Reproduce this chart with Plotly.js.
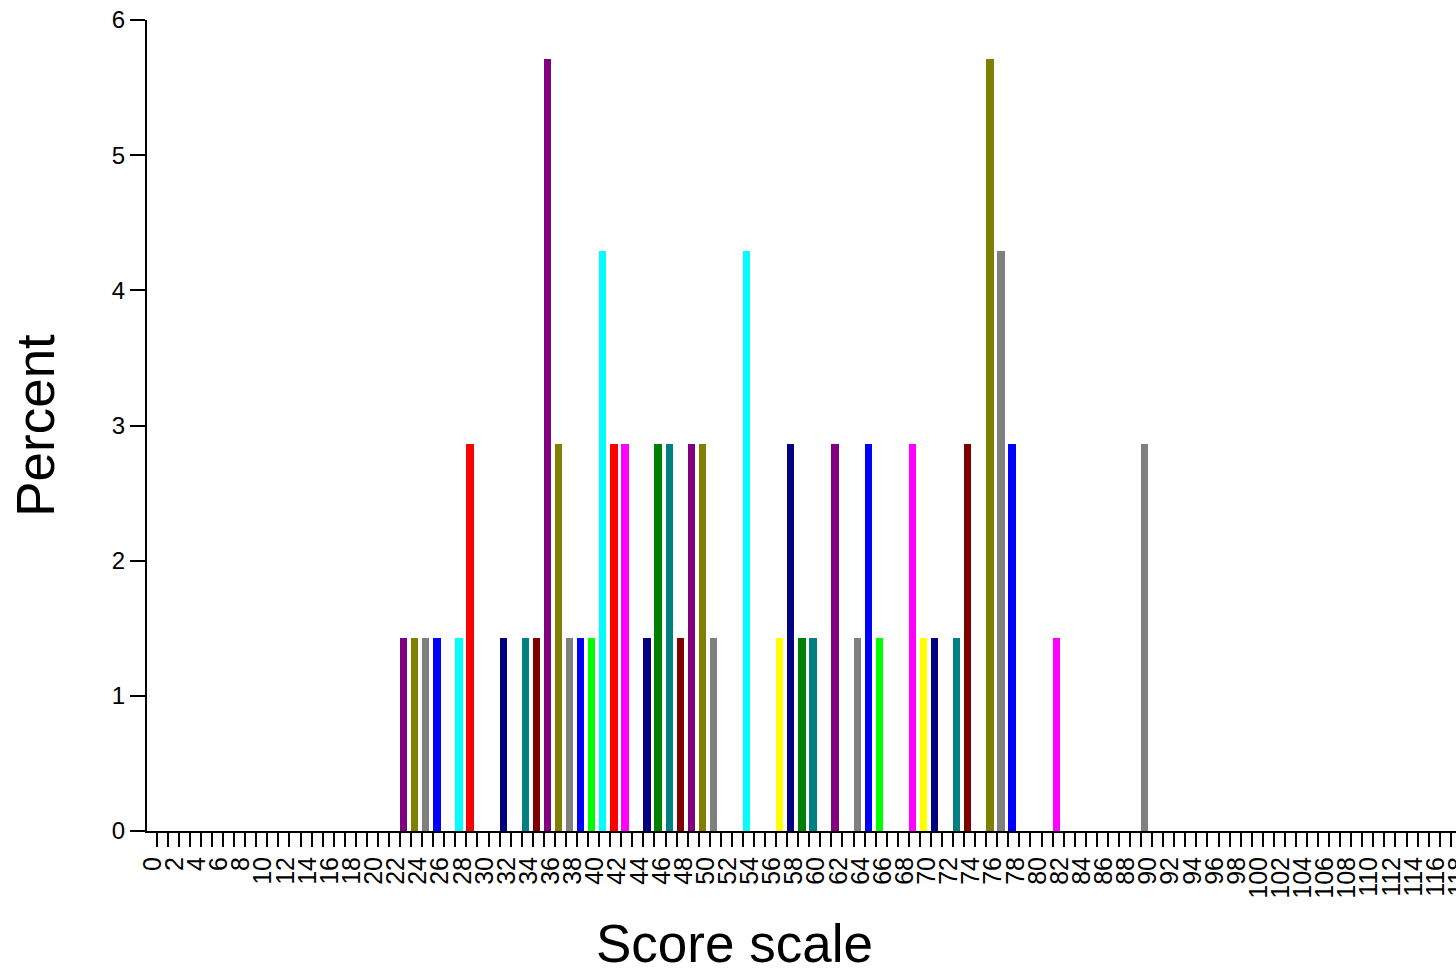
<!DOCTYPE html>
<html>
<head>
<meta charset="utf-8">
<script src="https://cdn.plot.ly/plotly-3.0.1.min.js"></script>
<style>
html, body { margin: 0; padding: 0; overflow: hidden; background: #fff; }
#chart { width: 1500px; height: 974px; }
</style>
</head>
<body>
<div id="chart"></div>
<script>
// Score values (x) and percent of cases at each score (y)
const scores = [22, 23, 24, 25, 27, 28, 31, 33, 34, 35, 36, 37, 38, 39, 40, 41, 42, 44, 45, 46, 47, 48, 49, 50,
                53, 56, 57, 58, 59, 61, 63, 64, 65, 68, 69, 70, 72, 73, 75, 76, 77, 81, 89];
const percents = [1.43, 1.43, 1.43, 1.43, 1.43, 2.86, 1.43, 1.43, 1.43, 5.71, 2.86, 1.43, 1.43, 1.43, 4.29, 2.86, 2.86, 1.43, 2.86, 2.86, 1.43, 2.86, 2.86, 1.43,
                  4.29, 1.43, 2.86, 1.43, 1.43, 2.86, 1.43, 2.86, 1.43, 2.86, 1.43, 1.43, 1.43, 2.86, 5.71, 4.29, 2.86, 1.43, 2.86];
const yTicks = [0, 1, 2, 3, 4, 5, 6];
const xTitle = 'Score scale';
const yTitle = 'Percent';

// colour cycle used by the original chart (by score value)
const palette = ['#00FF00', '#00FFFF', '#FF0000', '#FF00FF', '#FFFF00', '#000080', '#008000',
                 '#008080', '#800000', '#800080', '#808000', '#808080', '#0000FF'];
const barColors = scores.map(s => palette[s % palette.length]);

const FONT = 'Liberation Sans, Arial, Helvetica, sans-serif';
const W = 1500, H = 974, ML = 147, MR = 0, MT = 20, MB = 143;
const plotW = W - ML - MR, plotH = H - MT - MB;

const trace = {
  type: 'bar',
  x: scores,
  y: percents,
  width: 0.66,
  offset: 0,
  marker: { color: barColors, line: { width: 0 } },
  hoverinfo: 'x+y'
};

const layout = {
  width: W, height: H,
  margin: { l: ML, r: MR, t: MT, b: MB, pad: 0 },
  paper_bgcolor: '#ffffff',
  plot_bgcolor: '#ffffff',
  showlegend: false,
  font: { family: FONT, color: '#000' },
  bargap: 0,
  xaxis: {
    range: [-0.88, 121.45],
    tickmode: 'linear', tick0: 0, dtick: 2,
    ticks: 'outside', ticklen: 14, tickwidth: 2, tickcolor: '#000',
    minor: { tickmode: 'linear', tick0: 0, dtick: 1, ticks: 'outside', ticklen: 14, tickwidth: 2, tickcolor: '#000', showgrid: false },
    tickangle: -90,
    tickfont: { family: FONT, size: 25, color: '#000' },
    ticklabelshift: -4,
    showline: true, linewidth: 2, linecolor: '#000',
    showgrid: false, zeroline: false,
    automargin: false
  },
  yaxis: {
    range: [0, 6],
    tickmode: 'array', tickvals: yTicks, ticktext: yTicks.map(String),
    ticks: 'outside', ticklen: 15, tickwidth: 2, tickcolor: '#000',
    tickfont: { family: FONT, size: 24, color: '#000' },
    showline: true, linewidth: 2, linecolor: '#000',
    showgrid: false, zeroline: false,
    title: { text: yTitle, font: { family: FONT, size: 53, color: '#000' }, standoff: 40 },
    automargin: false
  },
  annotations: [{
    text: xTitle,
    xref: 'paper', yref: 'paper',
    x: (734 - ML) / plotW,
    y: -(944 - (MT + plotH)) / plotH,
    xanchor: 'center', yanchor: 'middle',
    showarrow: false,
    font: { family: FONT, size: 53, color: '#000' }
  }]
};

Plotly.newPlot('chart', [trace], layout, { displayModeBar: false, staticPlot: true });
</script>
</body>
</html>
